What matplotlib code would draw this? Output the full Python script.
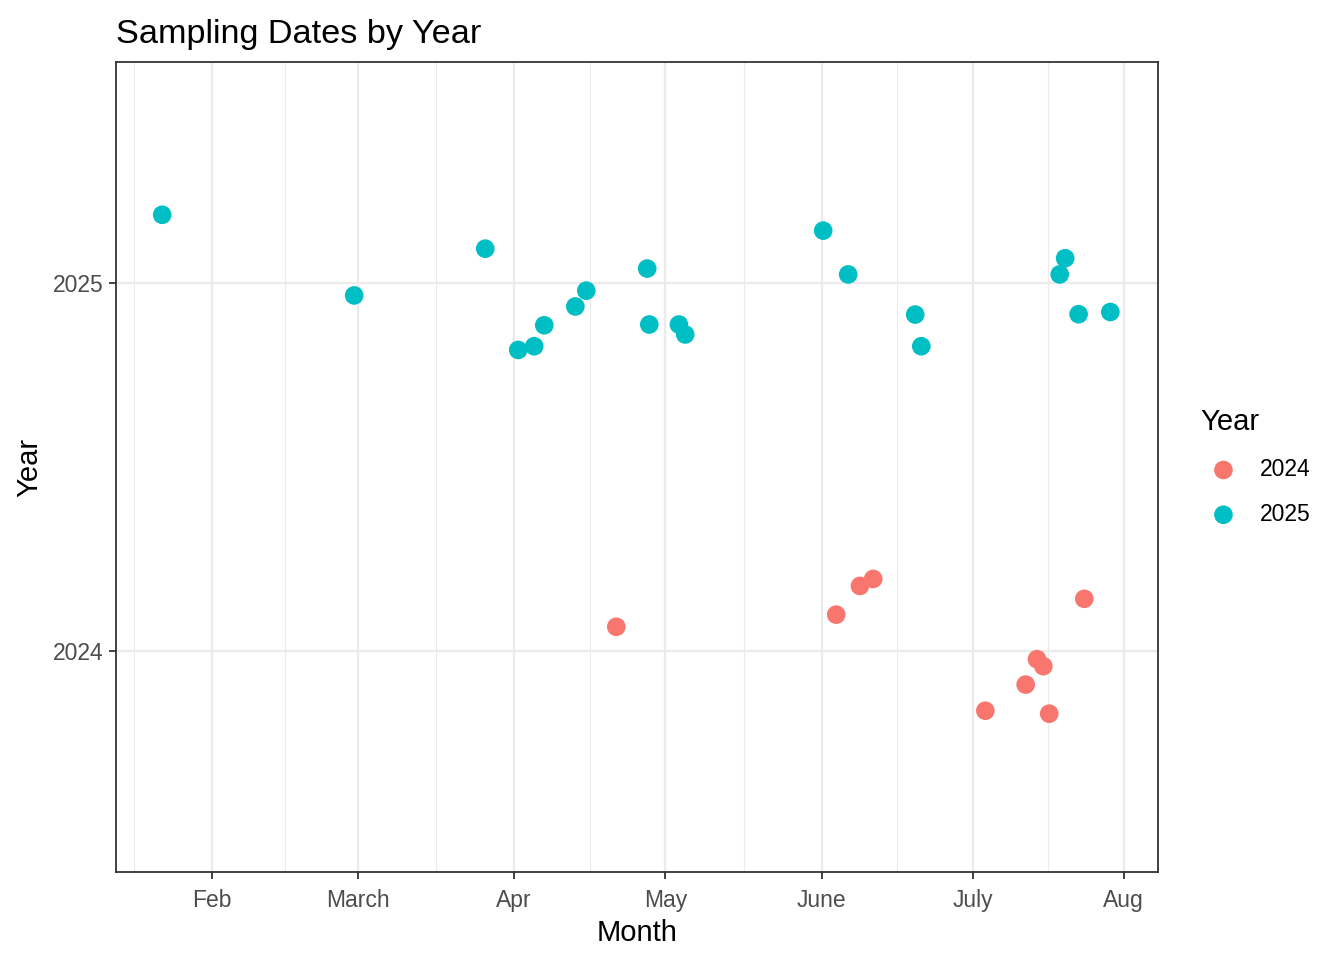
import numpy as np
import pandas as pd
import matplotlib
matplotlib.use("Agg")
import matplotlib.pyplot as plt

plt.rcParams['font.family'] = ['Liberation Sans', 'DejaVu Sans']

# ─── Data (dates mapped onto one dummy year, y jittered around the year) ───
dates_2025 = ["2024-01-22 04:00", "2024-02-29 06:00", "2024-03-26 06:00", "2024-04-01 19:00",
              "2024-04-04 23:00", "2024-04-06 23:00", "2024-04-13 03:00", "2024-04-15 07:00",
              "2024-04-27 09:00", "2024-04-27 19:00", "2024-05-03 16:00", "2024-05-04 22:00",
              "2024-06-01 07:00", "2024-06-06 06:00", "2024-06-19 13:00", "2024-06-20 18:00",
              "2024-07-18 05:00", "2024-07-19 07:00", "2024-07-21 23:00", "2024-07-28 06:00"]
y_2025 = [2025.185, 2024.966, 2025.093, 2024.818, 2024.828, 2024.885, 2024.936, 2024.979,
          2025.039, 2024.887, 2024.887, 2024.860, 2025.142, 2025.023, 2024.914, 2024.828,
          2025.023, 2025.067, 2024.915, 2024.921]

dates_2024 = ["2024-04-21 06:00", "2024-06-03 21:00", "2024-06-08 14:00", "2024-06-11 05:00",
              "2024-07-03 11:00", "2024-07-11 11:00", "2024-07-13 17:00", "2024-07-14 23:00",
              "2024-07-16 03:00", "2024-07-23 02:00"]
y_2024 = [2024.066, 2024.099, 2024.177, 2024.196, 2023.838, 2023.909, 2023.978, 2023.959,
          2023.830, 2024.142]

years = ["2024", "2025"]
colors = ["#F8766D", "#00BFC4"]

month_ticks = ["2024-02-01 00:00", "2024-03-01 00:00", "2024-04-01 00:00", "2024-05-01 00:00",
               "2024-06-01 00:00", "2024-07-01 00:00", "2024-07-30 22:00"]
month_labels = ["Feb", "March", "Apr", "May", "June", "July", "Aug"]

# ─── Plot ──────────────────────────────────────────────────────────
fig = plt.figure(figsize=(13.44, 9.6), dpi=100)
ax = fig.add_axes([116 / 1344, 1 - 872 / 960, (1158 - 116) / 1344, (872 - 62) / 960])

for yr, col, d, yv in zip(years, colors, [dates_2024, dates_2025], [y_2024, y_2025]):
    ax.scatter(pd.to_datetime(d), yv, s=180, color=col,
               edgecolors='none', label=yr, zorder=3)

ax.set_xlim(pd.Timestamp("2024-01-13 00:00"), pd.Timestamp("2024-08-06 17:00"))
ax.set_ylim(2023.4, 2025.6)

major = pd.to_datetime(month_ticks)
ax.set_xticks(major)
ax.set_xticklabels(month_labels)
# minor gridlines halfway between the month breaks (ggplot style); Jan 1 is the hidden break
breaks = [pd.Timestamp("2024-01-01")] + list(major)
minor = [a + (b - a) / 2 for a, b in zip(breaks[:-1], breaks[1:])]
ax.set_xticks(minor, minor=True)
ax.set_yticks([2024, 2025])
ax.set_yticklabels(["2024", "2025"])

ax.grid(True, which='major', color='#EBEBEB', linewidth=1.6, zorder=0)
ax.grid(True, which='minor', axis='x', color='#EBEBEB', linewidth=0.8, zorder=0)
ax.set_axisbelow(True)

for s in ax.spines.values():
    s.set_color('#333333')
    s.set_linewidth(1.3)
ax.tick_params(which='major', length=5, width=1.3, color='#333333',
               labelcolor='#4D4D4D', labelsize=16.5)
ax.tick_params(axis='x', which='major', pad=7)
ax.tick_params(axis='y', which='major', pad=4)
ax.tick_params(which='minor', length=0)

ax.set_xlabel("Month", fontsize=21, labelpad=5)
ax.set_ylabel("Year", fontsize=21, labelpad=7)
ax.set_title("Sampling Dates by Year", fontsize=24.7, loc='left', pad=14)

leg = ax.legend(title="Year", loc='center left', bbox_to_anchor=(1.032, 0.5),
                frameon=False, fontsize=16.5, title_fontsize=21,
                handletextpad=0.6, labelspacing=0.95, borderaxespad=0)
leg._legend_box.align = "left"

fig.savefig("out.png", dpi=100)
